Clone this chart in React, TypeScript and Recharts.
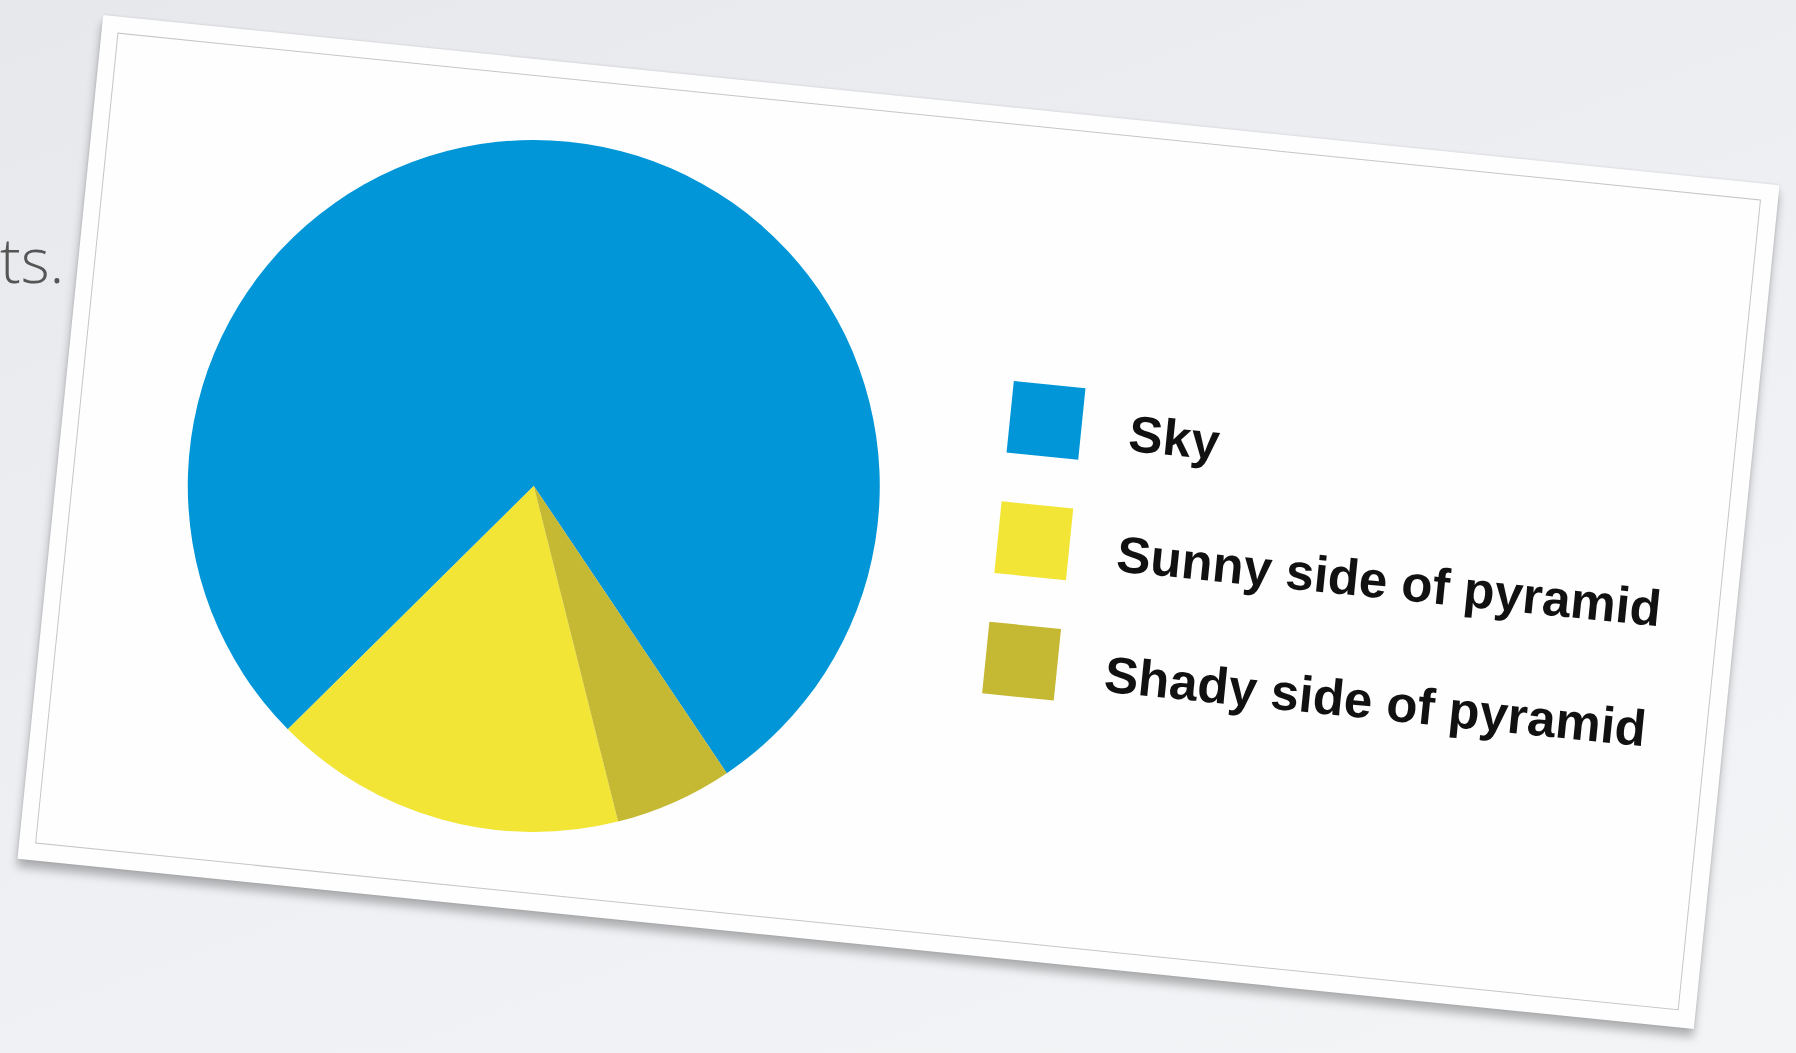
import { Cell, Legend, Pie, PieChart } from "recharts";

const categories = ["Sky", "Sunny side of pyramid", "Shady side of pyramid"];
const shares = [78, 16.5, 5.5];
const sliceColors = ["#0096d8", "#f2e536", "#c5b833"];

const pieData = categories.map((name, i) => ({ name, value: shares[i], fill: sliceColors[i] }));

const CARD_W = 1685;
const CARD_H = 848;

type LegendEntry = { value: string; color?: string };

function PyramidLegend({ payload }: { payload?: LegendEntry[] }) {
  // recharts sorts legend items by name; put them back in data order
  const items: LegendEntry[] = categories.map((name, i) => {
    const hit = payload?.find((p) => p.value === name);
    return { value: name, color: hit?.color ?? sliceColors[i] };
  });
  return (
    <div>
      {items.map((entry) => (
        <div key={entry.value} style={{ display: "flex", alignItems: "center", height: 72, marginBottom: 49 }}>
          <span style={{ width: 72, height: 72, background: entry.color, marginRight: 48, flex: "none" }} />
          <span
            style={{
              fontFamily: '"Liberation Sans", Arial, sans-serif',
              fontWeight: 700,
              fontSize: 51,
              color: "#111",
              whiteSpace: "nowrap",
              marginTop: 8,
            }}
          >
            {entry.value}
          </span>
        </div>
      ))}
    </div>
  );
}

export default function App() {
  return (
    <div
      style={{
        position: "relative",
        width: 1796,
        height: 1053,
        overflow: "hidden",
        background: "linear-gradient(160deg, #e6e8ec 0%, #eef0f3 55%, #f3f4f6 100%)",
      }}
    >
      <style>{`body{margin:0}`}</style>
      <div
        style={{
          position: "absolute",
          left: 0,
          top: 228,
          fontFamily: '"Open Sans", sans-serif',
          fontWeight: 300,
          fontSize: 62,
          color: "#555",
          lineHeight: 1,
        }}
      >
        ts.
      </div>
      <div
        style={{
          position: "absolute",
          left: 56,
          top: 98,
          width: CARD_W,
          height: CARD_H,
          background: "#fefefe",
          transform: "rotate(5.8deg)",
          transformOrigin: "center",
          boxShadow: "0 8px 10px rgba(0,0,0,0.28), 0 0 3px rgba(0,0,0,0.12)",
        }}
      >
        <div
          style={{
            position: "absolute",
            left: 16,
            top: 16,
            right: 17,
            bottom: 17,
            border: "1.5px solid #c6c6c6",
          }}
        />
        <PieChart width={CARD_W} height={CARD_H} style={{ position: "absolute", left: 0, top: 0 }}>
          <Pie
            data={pieData}
            dataKey="value"
            nameKey="name"
            cx={471}
            cy={420}
            outerRadius={346}
            startAngle={-50.3}
            endAngle={309.7}
            stroke="none"
            isAnimationActive={false}
          >
            {pieData.map((d) => (
              <Cell key={d.name} fill={d.fill} stroke="none" />
            ))}
          </Pie>
          <Legend
            layout="vertical"
            content={(props: any) => <PyramidLegend payload={props.payload} />}
            wrapperStyle={{ left: 943, top: 272, width: "auto" }}
          />
        </PieChart>
      </div>
    </div>
  );
}
